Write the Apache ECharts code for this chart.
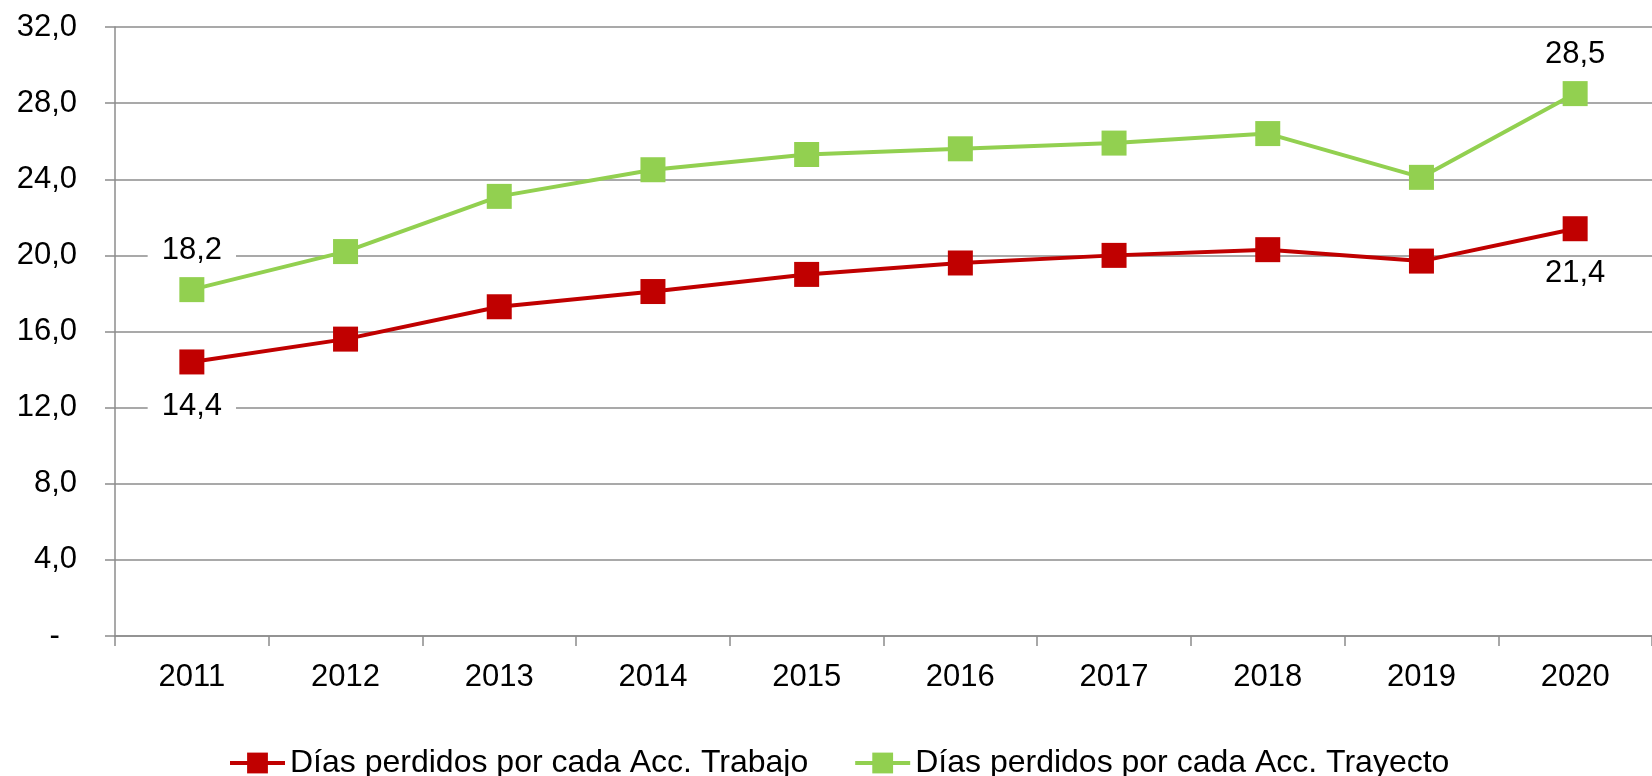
<!DOCTYPE html>
<html>
<head>
<meta charset="utf-8">
<script src="https://cdn.jsdelivr.net/npm/echarts@6/dist/echarts.min.js"></script>
<style>
  html, body { margin: 0; padding: 0; background: #fff; }
  #chart { width: 1652px; height: 776px; }
</style>
</head>
<body>
<div id="chart"></div>
<script>
const years = ['2011', '2012', '2013', '2014', '2015', '2016', '2017', '2018', '2019', '2020']
const trabajo = [14.4, 15.6, 17.3, 18.1, 19.0, 19.6, 20.0, 20.3, 19.7, 21.4]
const trayecto = [18.2, 20.2, 23.1, 24.5, 25.3, 25.6, 25.9, 26.4, 24.1, 28.5]
const seriesNames = ['Días perdidos por cada Acc. Trabajo', 'Días perdidos por cada Acc. Trayecto']

const FONT = '"Liberation Sans", Arial, sans-serif'
const fmt = v => v.toFixed(1).replace('.', ',')

// only first and last point get a value label
function withEndLabels(values, position, distance) {
  const last = values.length - 1
  return values.map((v, i) => (i === 0 || i === last)
    ? { value: v, label: { show: true, position, distance } }
    : v)
}

const labelStyle = {
  color: '#000', fontSize: 31, fontFamily: FONT,
  backgroundColor: '#fff', padding: [0, 14], lineHeight: 30,
  formatter: p => fmt(p.value),
}

const chart = echarts.init(document.getElementById('chart'))
chart.setOption({
  animation: false,
  textStyle: { fontFamily: FONT },
  grid: { left: 115, right: -15, top: 27, bottom: 140 },
  legend: {
    left: 223, top: 742,
    itemWidth: 55, itemHeight: 26, itemGap: 45,
    lineStyle: { width: 4 },
    textStyle: { color: '#000', fontSize: 32, fontFamily: FONT },
    data: seriesNames,
  },
  xAxis: {
    type: 'category',
    data: years,
    boundaryGap: true,
    axisLine: { lineStyle: { color: '#8c8c8c', width: 1.5 } },
    axisTick: { show: true, length: 10, lineStyle: { color: '#8c8c8c', width: 1.5 } },
    axisLabel: { color: '#000', fontSize: 31, fontFamily: FONT, margin: 26 },
  },
  yAxis: {
    type: 'value',
    min: 0, max: 32, interval: 4,
    axisLine: { show: true, lineStyle: { color: '#8c8c8c', width: 1.5 } },
    axisTick: { show: true, length: 10, lineStyle: { color: '#8c8c8c', width: 1.5 } },
    splitLine: { lineStyle: { color: '#8c8c8c', width: 1.5 } },
    axisLabel: {
      color: '#000', fontSize: 31, fontFamily: FONT, margin: 38,
      formatter: v => v === 0 ? '-  ' : fmt(v),
    },
  },
  series: [
    {
      name: seriesNames[0],
      type: 'line',
      data: withEndLabels(trabajo, 'bottom', 17),
      symbol: 'rect', symbolSize: 25,
      lineStyle: { color: '#c00000', width: 4 },
      itemStyle: { color: '#c00000' },
      label: labelStyle,
      z: 3,
    },
    {
      name: seriesNames[1],
      type: 'line',
      data: withEndLabels(trayecto, 'top', 12),
      symbol: 'rect', symbolSize: 25,
      lineStyle: { color: '#92d050', width: 4 },
      itemStyle: { color: '#92d050' },
      label: labelStyle,
      z: 3,
    },
  ],
})
</script>
</body>
</html>
